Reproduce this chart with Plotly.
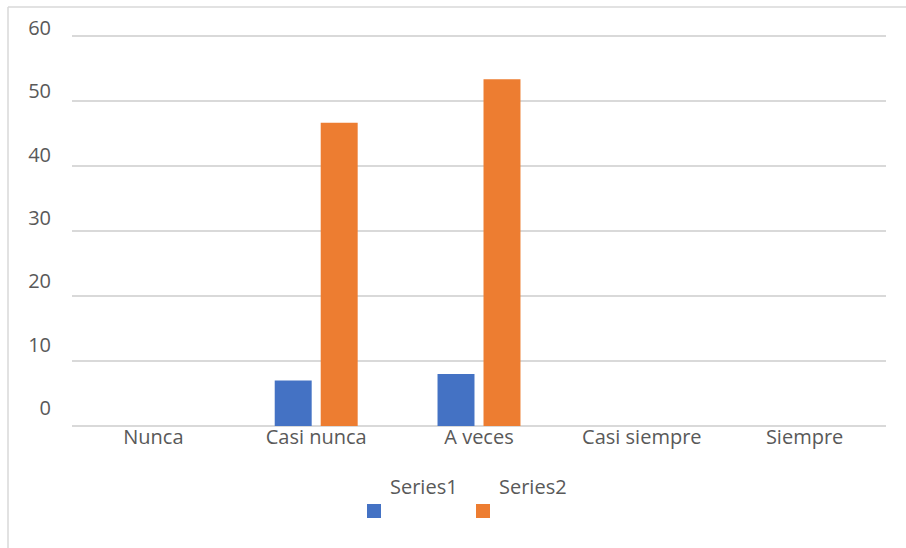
import plotly.graph_objects as go

# Frecuencias por categoría
categorias = ["Nunca", "Casi nunca", "A veces", "Casi siempre", "Siempre"]
series1 = [0, 7, 8, 0, 0]
series2 = [0, 46.67, 53.33, 0, 0]
nombres = ["Series1", "Series2"]
colores = ["#4472C4", "#ED7D31"]
ticks_y = [0, 10, 20, 30, 40, 50, 60]

W, H = 906, 548
M_L, M_R, M_T, M_B = 72, 20, 20, 122
plot_w = W - M_L - M_R
plot_h = H - M_T - M_B
grid_top = 36  # pixel row of the 60 gridline
pad = 0.5      # keeps the end gridline inside the value range
grid_px_per_unit = ((H - M_B) - grid_top) / 60
bars_domain_top = ((H - M_B) - grid_top + pad * grid_px_per_unit) / plot_h

# label axis: 0 label at pixel 408, 60 label at pixel 28
lab0, lab60 = 408, 28
px_per_unit = (lab0 - lab60) / 60
y2_min = -((H - M_B) - lab0) / px_per_unit
y2_max = (lab0 - M_T) / px_per_unit

FONT = "Open Sans"
GRIS = "#595959"


def px_x(p):
    return (p - M_L) / plot_w


def px_y(p):
    return ((H - M_B) - p) / plot_h


fig = go.Figure()
for nombre, valores, color in zip(nombres, [series1, series2], colores):
    fig.add_trace(go.Bar(x=categorias, y=valores, name=nombre,
                         marker=dict(color=color, line=dict(width=0)),
                         showlegend=False))
# carrier for the tick-label axis
fig.add_trace(go.Scatter(x=[], y=[], yaxis="y2", showlegend=False,
                         hoverinfo="skip"))

fig.update_layout(
    width=W, height=H,
    margin=dict(l=M_L, r=M_R, t=M_T, b=M_B),
    paper_bgcolor="white", plot_bgcolor="rgba(0,0,0,0)",
    barmode="group", bargap=0.435, bargroupgap=0.196,
    font=dict(family=FONT, size=20, color=GRIS),
    xaxis=dict(type="category", showgrid=False, zeroline=False,
               showline=False, ticks="", ticklen=0, ticklabelstandoff=0,
               anchor="free", position=px_y(423),
               tickfont=dict(family=FONT, size=20, color=GRIS)),
    yaxis=dict(domain=[0, bars_domain_top], range=[0, 60 + pad],
               tickvals=ticks_y, showticklabels=False,
               showgrid=True, gridcolor="#d9d9d9", gridwidth=1.5,
               zeroline=True, zerolinecolor="#d9d9d9", zerolinewidth=1.5,
               showline=False, ticks=""),
    yaxis2=dict(domain=[0, 1], anchor="x", range=[y2_min, y2_max],
                tickvals=ticks_y, showgrid=False, zeroline=False,
                showline=False, ticks="", ticklabelstandoff=20,
                tickfont=dict(family=FONT, size=20, color=GRIS)),
)

# outer chart frame (top and left edges)
fig.add_shape(type="line", xref="paper", yref="paper",
              x0=px_x(8), x1=px_x(W), y0=px_y(7), y1=px_y(7),
              line=dict(color="#d9d9d9", width=1.5))
fig.add_shape(type="line", xref="paper", yref="paper",
              x0=px_x(8), x1=px_x(8), y0=px_y(7), y1=px_y(H),
              line=dict(color="#d9d9d9", width=1.5))

# legend: name above, swatch below-left
leyenda = [(367, 388), (476, 497)]
for (sw_x, tx_x), nombre, color in zip(leyenda, nombres, colores):
    fig.add_shape(type="rect", xref="paper", yref="paper",
                  x0=px_x(sw_x), x1=px_x(sw_x + 14),
                  y0=px_y(518), y1=px_y(504),
                  fillcolor=color, line=dict(width=0))
    fig.add_annotation(xref="paper", yref="paper", x=px_x(tx_x), y=px_y(486),
                       xanchor="left", yanchor="middle", text=nombre,
                       showarrow=False,
                       font=dict(family=FONT, size=20, color=GRIS))

fig.write_html("out.html")
